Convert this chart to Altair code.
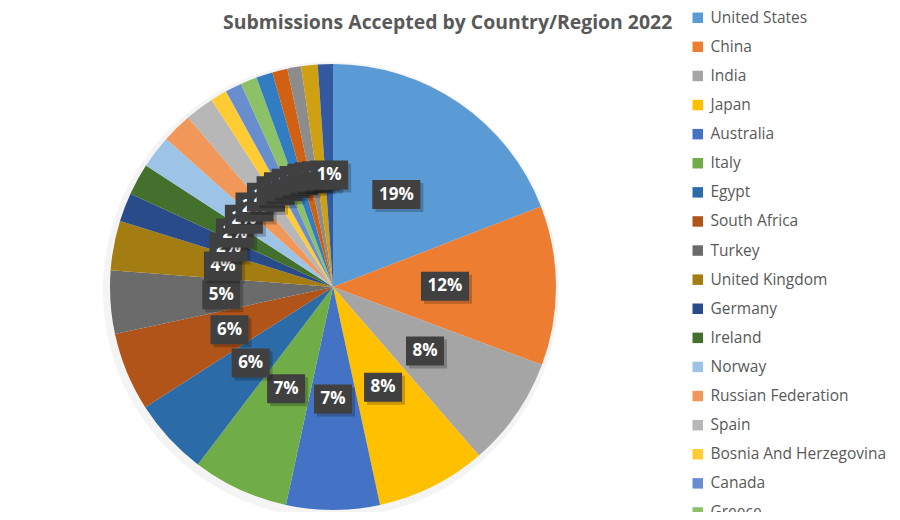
import altair as alt
import pandas as pd

countries = ["United States", "China", "India", "Japan", "Australia", "Italy",
             "Egypt", "South Africa", "Turkey", "United Kingdom", "Germany",
             "Ireland", "Norway", "Russian Federation", "Spain",
             "Bosnia And Herzegovina", "Canada", "Greece",
             "Other 19", "Other 20", "Other 21", "Other 22", "Other 23"]
shares = [19.2, 11.6, 8.0, 8.0, 6.8, 7.0, 5.6, 5.7, 4.6, 3.6, 2.1,
          2.3, 2.4, 2.2, 2.1, 1.2, 1.2, 1.2, 1.2, 1.1, 1.0, 1.2, 1.1]
colors = ["#5B9BD5", "#ED7D31", "#A5A5A5", "#FFC000", "#4472C4", "#70AD47",
          "#2B6CA8", "#B0541A", "#6B6B6B", "#A37D12", "#2A4B8A", "#43702D",
          "#9DC3E6", "#F1975A", "#B7B7B7", "#FFCD33", "#698ED0", "#8CC168",
          "#327DC2", "#D26012", "#8C8C8C", "#CFA011", "#335AA1"]
legend_names = countries[:18]

df = pd.DataFrame({"country": countries, "share": shares,
                   "idx": list(range(len(countries)))})

CX, CY, R, LR = 325, 279, 223, 112
FONT = "Open Sans"

base = alt.Chart(df)


def with_pos(ch):
    return (ch.transform_joinaggregate(total="sum(share)")
            .transform_window(cum="sum(share)", sort=[alt.SortField("idx")],
                              frame=[None, 0])
            .transform_calculate(
                label="round(datum.share/datum.total*100)+'%'",
                mid="(datum.cum - datum.share/2)/datum.total*2*PI")
            .transform_calculate(
                lx=f"{CX}+{LR}*sin(datum.mid)",
                ly=f"{CY}-{LR}*cos(datum.mid)",
                bw="18+10*length(datum.label)")
            .transform_calculate(
                bx1="datum.lx-datum.bw/2", bx2="datum.lx+datum.bw/2",
                by1="datum.ly-14.5", by2="datum.ly+14.5",
                sx1="datum.lx-datum.bw/2+3", sx2="datum.lx+datum.bw/2+3",
                sy1="datum.ly-14.5+3", sy2="datum.ly+14.5+3"))


glow = base.mark_arc(radius=R + 5, color="#f4f4f4").encode(
    theta=alt.Theta("share:Q", stack=True),
    order=alt.Order("idx:Q"),
    x=alt.value(CX - 2), y=alt.value(CY + 3))

pie = base.mark_arc(radius=R).encode(
    theta=alt.Theta("share:Q", stack=True),
    order=alt.Order("idx:Q"),
    color=alt.Color("country:N", sort=countries,
                    scale=alt.Scale(domain=countries, range=colors),
                    legend=alt.Legend(values=legend_names, title=None,
                                      orient="none", legendX=682, legendY=2,
                                      symbolType="square", symbolSize=110,
                                      symbolStrokeWidth=0, labelFont=FONT,
                                      labelFontSize=15.5, labelColor="#595959",
                                      rowPadding=12.1, labelOffset=5,
                                      padding=0, labelLimit=300)),
    x=alt.value(CX), y=alt.value(CY))

layers = [glow, pie]
for i in range(len(countries)):
    sub = with_pos(base).transform_filter(f"datum.idx == {i}")
    layers.append(sub.mark_rect(color="#000000", opacity=0.22).encode(
        x=alt.X("sx1:Q", scale=None, axis=None), x2="sx2:Q",
        y=alt.Y("sy1:Q", scale=None, axis=None), y2="sy2:Q"))
    layers.append(sub.mark_rect(color="#404040").encode(
        x=alt.X("bx1:Q", scale=None, axis=None), x2="bx2:Q",
        y=alt.Y("by1:Q", scale=None, axis=None), y2="by2:Q"))
    layers.append(sub.mark_text(font=FONT, fontWeight="bold", fontSize=17,
                                color="white", align="center",
                                baseline="middle").encode(
        x=alt.X("lx:Q", scale=None, axis=None),
        y=alt.Y("ly:Q", scale=None, axis=None),
        text="label:N"))

chart = alt.layer(*layers).properties(
    width=884, height=504, autosize="none", padding=0,
    view=alt.ViewBackground(stroke=None, strokeWidth=0),
    title=alt.TitleParams("Submissions Accepted by Country/Region 2022",
                          font=FONT, fontSize=19.4, fontWeight="bold",
                          color="#595959", anchor="start", dx=215,
                          offset=-25),
).configure_view(stroke=None, strokeOpacity=0, strokeWidth=0).configure(
    background="white")

chart.save("out.html", embed_options={"renderer": "svg", "actions": False})
